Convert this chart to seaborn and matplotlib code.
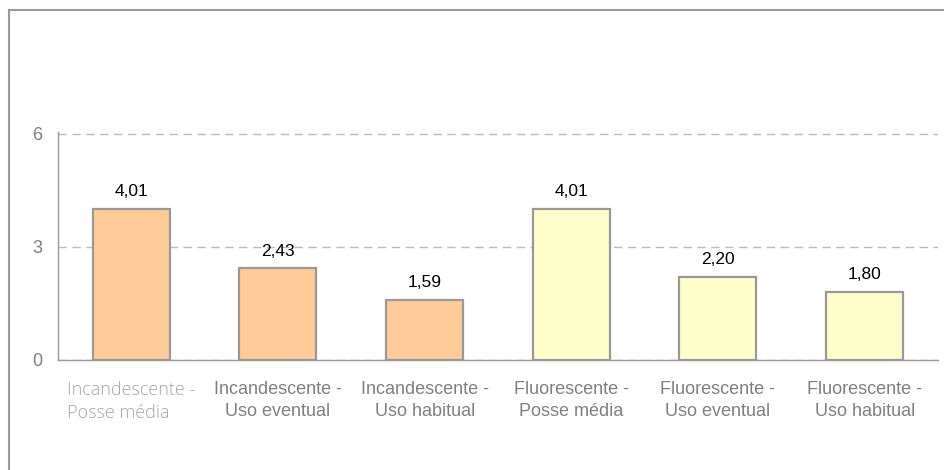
"""Bar chart: lamp counts by type and usage."""

import matplotlib

matplotlib.use("Agg")
import matplotlib.pyplot as plt
import pandas as pd
import seaborn as sns
from matplotlib.patches import Rectangle
from matplotlib.ticker import FixedLocator

categories = [
    "Incandescente -\nPosse média",
    "Incandescente -\nUso eventual",
    "Incandescente -\nUso habitual",
    "Fluorescente -\nPosse média",
    "Fluorescente -\nUso eventual",
    "Fluorescente -\nUso habitual",
]
groups = ["Incandescente", "Incandescente", "Incandescente",
          "Fluorescente", "Fluorescente", "Fluorescente"]
values = [4.01, 2.43, 1.59, 4.01, 2.20, 1.80]
y_ticks = [0, 3, 6]

PALETTE = {"Incandescente": "#FFCC99", "Fluorescente": "#FFFFCC"}
EDGE = "#999999"
TEXT_GRAY = "#808080"

sns.set_style("white")
plt.rcParams["font.family"] = ["Liberation Sans", "DejaVu Sans"]

data = pd.DataFrame({"category": categories, "group": groups, "value": values})

W, H = 944, 470
fig = plt.figure(figsize=(W / 100, H / 100), dpi=100)
ax = fig.add_axes([58 / W, 1 - 360 / H, (938 - 58) / W, (360 - 132) / H])

sns.barplot(
    data=data,
    x="category",
    y="value",
    hue="group",
    palette=PALETTE,
    saturation=1,
    dodge=False,
    width=0.525,
    edgecolor=EDGE,
    linewidth=1.6,
    legend=False,
    ax=ax,
)

for container in ax.containers:
    labels = [f"{v:.2f}".replace(".", ",") for v in container.datavalues]
    ax.bar_label(container, labels=labels, padding=7, fontsize=12.5, color="black")

ax.set_ylim(0, 6.05)
ax.set_xlim(-0.5, len(categories) - 0.5)
ax.set_yticks(y_ticks)
ax.set(xlabel="", ylabel="")

ax.grid(axis="y", color="#BBBBBB", linestyle=(0, (6, 4)), linewidth=1.0)
ax.grid(axis="x", visible=False)
ax.set_axisbelow(True)

for side in ("top", "right"):
    ax.spines[side].set_visible(False)
for side in ("left", "bottom"):
    ax.spines[side].set_color(EDGE)
    ax.spines[side].set_linewidth(1.0)

ax.tick_params(axis="y", length=5, width=1, color=EDGE, pad=6,
               labelsize=13, labelcolor=TEXT_GRAY)
ax.tick_params(axis="x", which="major", length=0, pad=15,
               labelsize=13, labelcolor=TEXT_GRAY)
ax.xaxis.set_minor_locator(FixedLocator([i - 0.5 for i in range(len(categories) + 1)]))
ax.tick_params(axis="x", which="minor", length=5, width=1, color=EDGE)

for label in ax.get_xticklabels():
    label.set_linespacing(1.4)

first = ax.get_xticklabels()[0]
first.set_family(["Open Sans", "DejaVu Sans"])
first.set_fontweight("light")
first.set_color("#A6A6A6")
first.set_multialignment("left")

fig.patches.append(
    Rectangle((8.5 / W, -0.1), 1.2, 1 - 10.5 / H + 0.1, transform=fig.transFigure,
              fill=False, edgecolor=EDGE, linewidth=1.5, figure=fig)
)

fig.savefig("out.png", dpi=100)
plt.close(fig)
